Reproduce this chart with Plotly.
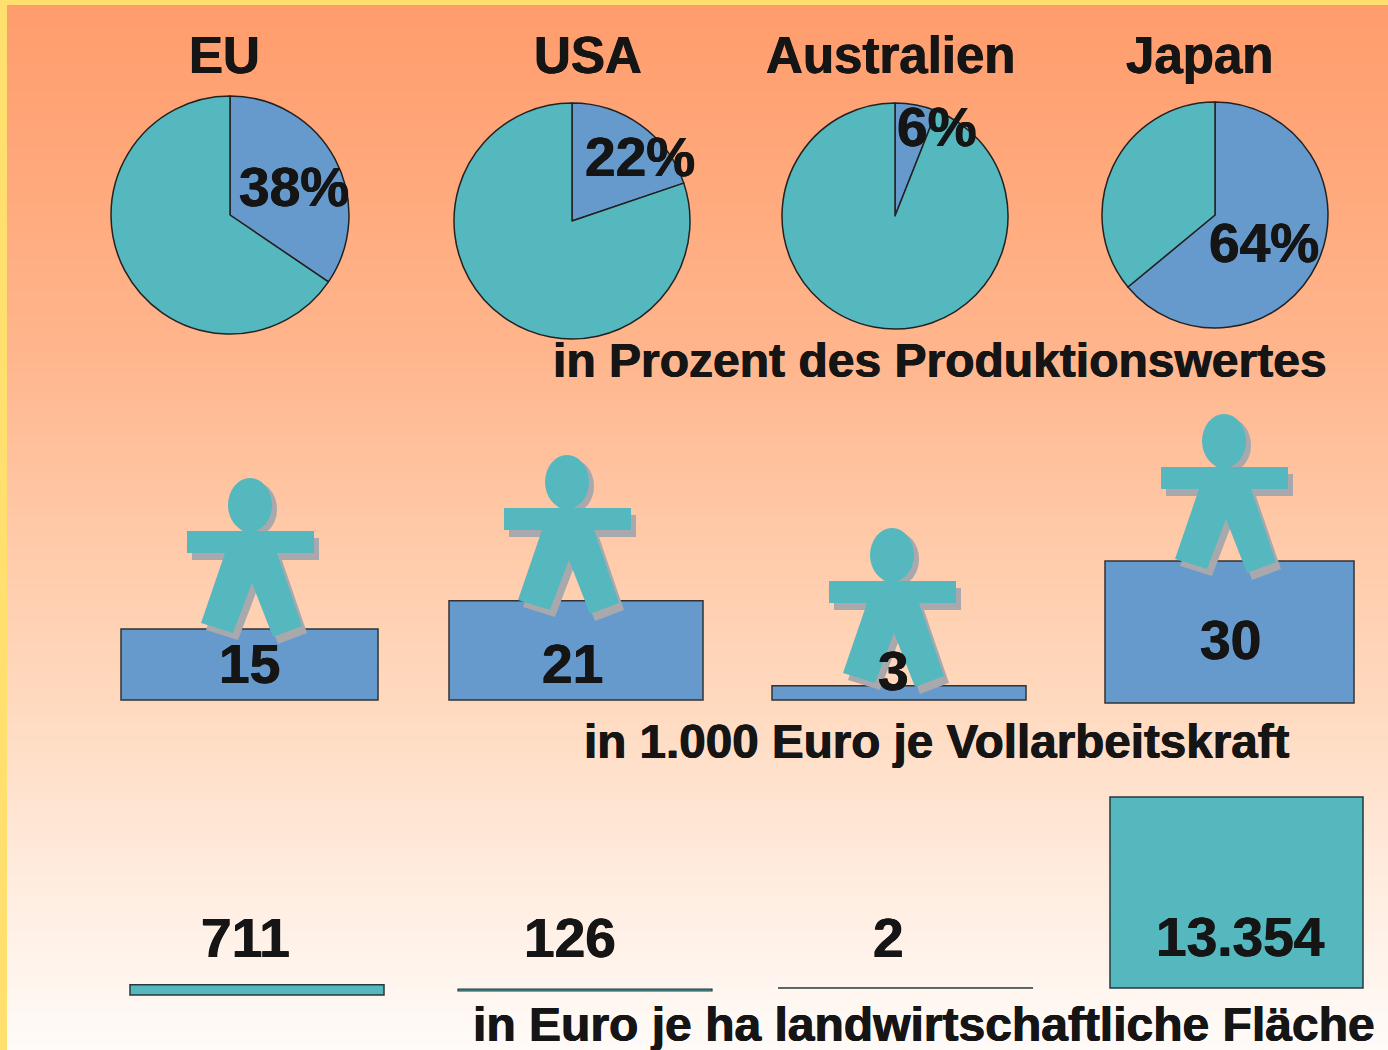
import plotly.graph_objects as go

# ---- data ----
regions = ["EU", "USA", "Australien", "Japan"]
share_labels = ["38%", "22%", "6%", "64%"]
share_drawn = [34.5, 19.8, 6.0, 64.0]
income_per_worker = [15, 21, 3, 30]
income_labels = ["15", "21", "3", "30"]
income_per_ha = [711, 126, 2, 13354]
ha_labels = ["711", "126", "2", "13.354"]
captions = ["in Prozent des Produktionswertes", "in 1.000 Euro je Vollarbeitskraft",
            "in Euro je ha landwirtschaftliche Fläche"]

# ---- style and layout ----
W, H = 1388, 1050
BLUE, TEAL, SHADOW, INK = "#6699CC", "#55B8BF", "#A9A9AD", "#151515"
FRAME = "#FFE06E"
FONT = "Liberation Sans"

pie_boxes = [(230, 215, 119), (572, 221, 118), (895, 216, 113), (1215, 215, 113)]
title_pos = [(224, 55), (588, 55), (890, 55), (1199, 55)]
share_pos = [(294, 187), (640, 157), (937, 127), (1264, 243)]

worker_x = [(121, 378), (449, 703), (772, 1026), (1105, 1354)]
worker_base_px = [700, 700, 700, 703]
worker_scale = 4.73          # px per unit
worker_label_pos = [(249, 664), (572, 664), (893, 671), (1230, 640)]
heads = [(250, 505), (567, 482), (892, 555), (1224, 441)]

ha_x = [(130, 384), (458, 712), (778, 1033), (1110, 1363)]
ha_base_px = [995, 991, 988, 988]
ha_scale = 0.0143            # px per unit
ha_line = [1.5, 1.2, 1.0, 1.5]
ha_label_pos = [(245, 938), (570, 938), (888, 938), (1240, 937)]

caption_pos = [(939, 360), (937, 741), (924, 1024)]
caption_size = [48, 47.6, 48]

# pictogram outline relative to the head centre
body = [(-63, 26), (64, 26), (64, 48), (27, 48), (52, 121), (23, 132), (2, 78),
        (-17, 128), (-49, 118), (-25, 48), (-63, 48)]
HEAD_RX, HEAD_RY = 22, 27

fig = go.Figure()

# background gradient
grad_y = [0, 350, 520, 700, 880, 1050]
grad_c = ["#FF9C6B", "#FFB58C", "#FFC8A6", "#FFD9BE", "#FFECDF", "#FFFBF8"]
lo, hi = grad_y[0], grad_y[-1]
fig.add_trace(go.Heatmap(
    x=[0, W], y=grad_y, z=[[v, v] for v in grad_y], zsmooth="best", showscale=False,
    colorscale=[[(v - lo) / (hi - lo), c] for v, c in zip(grad_y, grad_c)],
    hoverinfo="skip", xaxis="x", yaxis="y"))

# pies
for (cx, cy, r), v in zip(pie_boxes, share_drawn):
    fig.add_trace(go.Pie(
        values=[v, 100 - v], sort=False, direction="clockwise", rotation=0,
        marker=dict(colors=[BLUE, TEAL], line=dict(color="#222222", width=1.5)),
        textinfo="none", showlegend=False, hoverinfo="skip",
        domain=dict(x=[(cx - r) / W, (cx + r) / W], y=[1 - (cy + r) / H, 1 - (cy - r) / H])))

# worker bars: axis y2 has 0 at 700 px
fig.add_trace(go.Bar(
    x=[(a + b) / 2 for a, b in worker_x], width=[b - a for a, b in worker_x],
    y=income_per_worker, base=[(700 - p) / worker_scale for p in worker_base_px],
    marker=dict(color=BLUE, line=dict(color="#333333", width=1.5)),
    xaxis="x", yaxis="y2", showlegend=False, hoverinfo="skip"))

# per-hectare bars: axis y3 has 0 at 988 px
fig.add_trace(go.Bar(
    x=[(a + b) / 2 for a, b in ha_x], width=[b - a for a, b in ha_x],
    y=income_per_ha, base=[(988 - p) / ha_scale for p in ha_base_px],
    marker=dict(color=TEAL, line=dict(color="#26383C", width=ha_line)),
    xaxis="x", yaxis="y3", showlegend=False, hoverinfo="skip"))


def outline(hx, hy, dx=0, dy=0):
    pts = [f"{hx + x + dx},{hy + y + dy}" for x, y in body]
    return "M" + " L".join(pts) + " Z"


# yellow frame on the left and top edges
shapes = [
    dict(type="rect", xref="x", yref="y", x0=0, x1=7, y0=0, y1=H, fillcolor=FRAME, line_width=0),
    dict(type="rect", xref="x", yref="y", x0=0, x1=W, y0=0, y1=5, fillcolor=FRAME, line_width=0),
]
for (hx, hy) in heads:
    for dx, dy, col in [(5, 7, SHADOW), (0, 0, TEAL)]:
        shapes.append(dict(type="circle", xref="x", yref="y", x0=hx - HEAD_RX + dx, x1=hx + HEAD_RX + dx,
                           y0=hy - HEAD_RY + dy * 0.6, y1=hy + HEAD_RY + dy * 0.6, fillcolor=col, line_width=0))
        shapes.append(dict(type="path", xref="x", yref="y", path=outline(hx, hy, dx, dy), fillcolor=col, line_width=0))


def note(text, pos, size):
    return dict(text=f"<b>{text}</b>", x=pos[0], y=pos[1], xref="x", yref="y", showarrow=False,
                xanchor="center", yanchor="middle",
                font=dict(family=FONT, size=size, color=INK, shadow=f"0.6px 0 0 {INK}, -0.4px 0 0 {INK}"))


notes = []
notes += [note(t, p, 51) for t, p in zip(regions, title_pos)]
notes += [note(t, p, 55) for t, p in zip(share_labels, share_pos)]
notes += [note(t, p, 55) for t, p in zip(income_labels, worker_label_pos)]
notes += [note(t, p, 55) for t, p in zip(ha_labels, ha_label_pos)]
notes += [note(t, p, s) for t, p, s in zip(captions, caption_pos, caption_size)]

hidden = dict(visible=False, showgrid=False, zeroline=False, fixedrange=True)
fig.update_layout(
    width=W, height=H, autosize=False, margin=dict(l=0, r=0, t=0, b=0),
    paper_bgcolor=FRAME, plot_bgcolor="rgba(0,0,0,0)", barmode="overlay", showlegend=False,
    xaxis=dict(range=[0, W], domain=[0, 1], **hidden),
    yaxis=dict(range=[H, 0], domain=[0, 1], **hidden),
    yaxis2=dict(range=[(700 - H) / worker_scale, 700 / worker_scale], overlaying="y", **hidden),
    yaxis3=dict(range=[(988 - H) / ha_scale, 988 / ha_scale], overlaying="y", **hidden),
    shapes=shapes, annotations=notes)

fig.write_html("out.html", config=dict(displayModeBar=False),
               post_script="document.body.style.margin='0';document.documentElement.style.overflow='hidden';")
